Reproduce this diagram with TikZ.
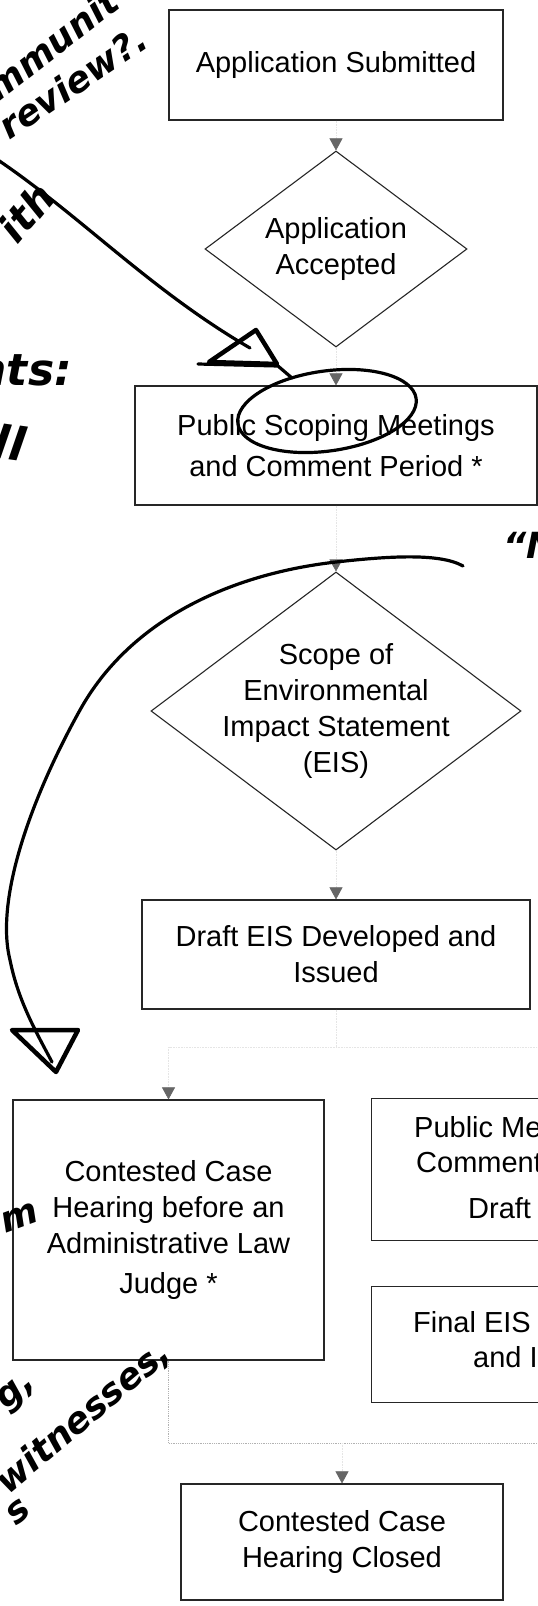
\documentclass[tikz,border=0pt]{standalone}
\usepackage{fontspec}
\setmainfont{Liberation Sans}
\newfontfamily\handfont{DejaVu Sans}
\usepackage{tikz}
\usetikzlibrary{positioning,arrows.meta,shapes.geometric,calc}

\begin{document}
\begin{tikzpicture}[x=1pt, y=-1pt,
        font=\fontsize{29}{36}\selectfont,
        box/.style={draw=black!85, line width=1.2pt, align=center, inner sep=0pt},
        decision/.style={diamond, draw=black!85, line width=1.1pt, inner sep=0pt},
        frag/.style={anchor=west, inner sep=0pt},
        flow/.style={draw=black!10, densely dotted, line width=0.6pt,
            -{Triangle[width=13pt, length=12pt, color=black!60]}},
        joinline/.style={draw=black!30, densely dotted, line width=0.8pt},
        pen/.style={draw=black, line width=3.2pt, line cap=round, line join=round},
        hand/.style={font=\handfont\bfseries\itshape\fontsize{36}{36}\selectfont, inner sep=0pt}]
        % Page frame
        \fill[white] (0,0) rectangle (538,1606);
        \useasboundingbox (0,0) rectangle (538,1606);
        \clip (0,0) rectangle (538,1606);

        % Main column
        \node[box, minimum width=334pt, minimum height=110pt] (submitted) at (336,65) {Application Submitted};
        \node[decision, minimum width=262pt, minimum height=196pt] (accepted) at (336,249) {};
        \node[align=center] (acceptedtext) at (accepted.center) {Application\\Accepted};
        \node[box, minimum width=402pt, minimum height=119pt] (scoping) at (336,445.5) {Public Scoping Meetings\\[5pt]and Comment Period *};
        \node[decision, minimum width=370pt, minimum height=278pt] (scope) at (336,711) {};
        \node[align=center] (scopetext) at (scope.center) {Scope of\\Environmental\\Impact Statement\\(EIS)};
        \node[box, minimum width=388pt, minimum height=109pt] (draft) at (336,954.5) {Draft EIS Developed and\\Issued};

        % Branches
        \node[box, minimum width=311pt, minimum height=260pt] (hearing) at (168.5,1230) {Contested Case\\Hearing before an\\Administrative Law\\[4pt]Judge *};
        \node[box, minimum width=420pt, minimum height=142pt, anchor=north west] (pubmeet) at (371,1098) {};
        \node[frag] (pubmeet1) at (414,1127) {Public Me};
        \node[frag] (pubmeet2) at (416,1163) {Comment};
        \node[frag] (pubmeet3) at (468,1208) {Draft};
        \node[box, minimum width=420pt, minimum height=116pt, anchor=north west] (finaleis) at (371,1286) {};
        \node[frag] (finaleis1) at (413,1322) {Final EIS};
        \node[frag] (finaleis2) at (473,1357) {and I};
        \node[box, minimum width=322pt, minimum height=116pt] (closed) at (342,1542) {Contested Case\\Hearing Closed};

        % Connectors
        \draw[flow] (submitted) -- (accepted);
        \draw[flow] (accepted) -- (scoping);
        \draw[flow] (scoping) -- (scope);
        \draw[flow] (scope) -- (draft);
        \coordinate (split) at (336,1047);
        \draw[flow] (draft) -- (split) -| (hearing);
        \draw[flow] (split) -| (pubmeet);
        \draw[flow] (pubmeet) -- (finaleis);
        \coordinate (join) at (342,1443);
        \draw[joinline] (hearing) |- (join) -| (finaleis);
        \draw[flow] (join) -- (closed);

        % Handwritten marks
        \draw[pen] (-5,158) .. controls (80,215) and (150,290) .. (250,348);
        \draw[pen, line width=4.5pt] (209,362) -- (256,330) -- (277,364) -- cycle;
        \draw[pen] (198,364) -- (278,366) -- (292,378);
        \draw[pen, rotate around={8:(327,411)}] (327,411) ellipse [x radius=90pt, y radius=40pt];
        \draw[pen] (463,566) .. controls (440,553) and (390,556) .. (336,562)
            .. controls (230,574) and (130,620) .. (80,710)
            .. controls (30,800) and (-5,900) .. (10,960)
            .. controls (18,1000) and (35,1030) .. (52,1062);
        \draw[pen, line width=4.5pt] (12,1030) -- (78,1030) -- (56,1072) -- cycle;

        % Handwritten notes
        \node[hand, rotate=38] (noteA) at (52,44) {mmunit};
        \node[hand, rotate=34] (noteB) at (73,82) {review?.};
        \node[hand, rotate=50, font=\handfont\bfseries\itshape\fontsize{40}{40}\selectfont] (noteC) at (26,212) {ith};
        \node[hand, anchor=east, font=\handfont\bfseries\itshape\fontsize{44}{44}\selectfont] (noteD) at (72,370) {nts:};
        \node[hand, rotate=-8, font=\handfont\bfseries\itshape\fontsize{46}{46}\selectfont] (noteE) at (10,442) {ll};
        \node[hand, anchor=west] (noteF) at (503,545) {“N};
        \node[hand, rotate=20] (noteG) at (20,1218) {m};
        \node[hand, rotate=40] (noteH) at (18,1393) {g,};
        \node[hand, rotate=40, anchor=east] (noteI) at (166,1348) {witnesses,};
        \node[hand, rotate=40] (noteJ) at (18,1512) {s};
\end{tikzpicture}
\end{document}
